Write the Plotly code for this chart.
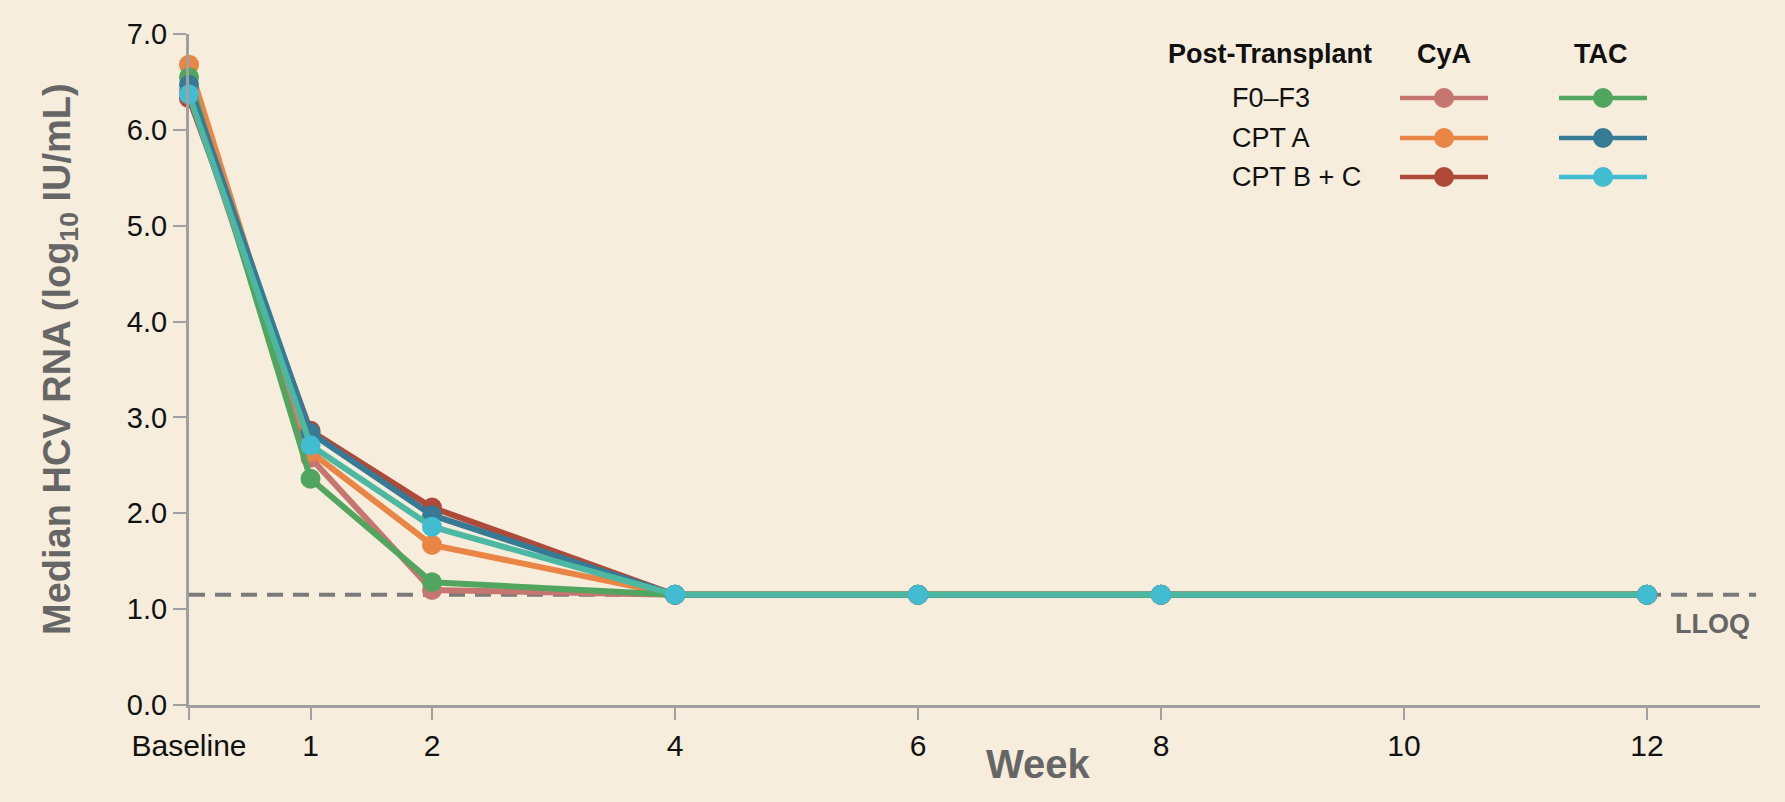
import plotly.graph_objects as go

# ---- data ----
weeks = [0, 1, 2, 4, 6, 8, 12]
tick_vals = [0, 1, 2, 4, 6, 8, 10, 12]
tick_text = ["Baseline", "1", "2", "4", "6", "8", "10", "12"]
y_ticks = [0, 1, 2, 3, 4, 5, 6, 7]

cya_f0f3 = [6.40, 2.58, 1.20, 1.15, 1.15, 1.15, 1.15]
cya_cpta = [6.68, 2.64, 1.67, 1.15, 1.15, 1.15, 1.15]
cya_cptbc = [6.33, 2.86, 2.06, 1.15, 1.15, 1.15, 1.15]
tac_f0f3 = [6.55, 2.36, 1.28, 1.15, 1.15, 1.15, 1.15]
tac_cpta = [6.47, 2.84, 1.98, 1.15, 1.15, 1.15, 1.15]
tac_cptbc = [6.37, 2.71, 1.86, 1.15, 1.15, 1.15, 1.15]
lloq = 1.15

row_labels = ["F0–F3", "CPT A", "CPT B + C"]

series = [
    ("CyA F0–F3", cya_f0f3, "#c67670", "#c67670"),
    ("CyA CPT A", cya_cpta, "#e98545", "#e98545"),
    ("CyA CPT B + C", cya_cptbc, "#b04a38", "#b04a38"),
    ("TAC F0–F3", tac_f0f3, "#52a55e", "#52a55e"),
    ("TAC CPT A", tac_cpta, "#367a96", "#367a96"),
    ("TAC CPT B + C", tac_cptbc, "#4db8a2", "#41bcd1"),
]

FONT = "Liberation Sans, Arial, Helvetica, sans-serif"
BG = "#f6eddc"

W, H = 1785, 802
L, R, T, B = 189, 25, 34, 97
pw = W - L - R
ph = H - T - B


def px(x):
    return (x - L) / pw


def py(y):
    return (H - B - y) / ph


fig = go.Figure()

for name, ys, lc, mc in series:
    fig.add_trace(go.Scatter(
        x=weeks, y=ys, mode="lines+markers", name=name,
        line=dict(color=lc, width=6),
        marker=dict(color=mc, size=20, line=dict(width=0)),
        cliponaxis=False, showlegend=False,
    ))

shapes = []
# LLOQ dashed line
shapes.append(dict(type="line", xref="paper", yref="y", x0=0, x1=0.9975,
                   y0=lloq, y1=lloq, line=dict(color="#7a7a7a", width=4, dash="16px,10px"),
                   layer="below"))

annotations = []
# LLOQ label
annotations.append(dict(text="<b>LLOQ</b>", xref="paper", yref="paper",
                        x=px(1752), y=py(624), xanchor="right", yanchor="middle",
                        showarrow=False, font=dict(family=FONT, size=27, color="#666666")))

# Axis titles
annotations.append(dict(text="<b>Week</b>", xref="paper", yref="paper",
                        x=px(1038), y=py(764), xanchor="center", yanchor="middle",
                        showarrow=False, font=dict(family=FONT, size=40, color="#666666")))
annotations.append(dict(text="<b>Median HCV RNA (log<sub>10</sub> IU/mL)</b>", xref="paper", yref="paper",
                        x=px(60), y=py(359), xanchor="center", yanchor="middle", textangle=-90,
                        showarrow=False, font=dict(family=FONT, size=38, color="#666666")))

# Custom legend
hdr_y = 54
annotations.append(dict(text="<b>Post-Transplant</b>", xref="paper", yref="paper",
                        x=px(1270), y=py(hdr_y), xanchor="center", yanchor="middle",
                        showarrow=False, font=dict(family=FONT, size=27, color="#111111")))
annotations.append(dict(text="<b>CyA</b>", xref="paper", yref="paper",
                        x=px(1444), y=py(hdr_y), xanchor="center", yanchor="middle",
                        showarrow=False, font=dict(family=FONT, size=27, color="#111111")))
annotations.append(dict(text="<b>TAC</b>", xref="paper", yref="paper",
                        x=px(1601), y=py(hdr_y), xanchor="center", yanchor="middle",
                        showarrow=False, font=dict(family=FONT, size=27, color="#111111")))

row_y = [98, 138, 177]
col_x = [1444, 1603]
for i, lab in enumerate(row_labels):
    annotations.append(dict(text=lab, xref="paper", yref="paper",
                            x=px(1230), y=py(row_y[i]), xanchor="left", yanchor="middle",
                            showarrow=False, font=dict(family=FONT, size=27, color="#111111")))
    for j in range(2):
        _, _, lc, mc = series[j * 3 + i]
        cx = col_x[j]
        shapes.append(dict(type="line", xref="paper", yref="paper",
                           x0=px(cx - 44), x1=px(cx + 44), y0=py(row_y[i]), y1=py(row_y[i]),
                           line=dict(color=mc, width=4.5)))
        shapes.append(dict(type="circle", xref="paper", yref="paper",
                           xsizemode="pixel", ysizemode="pixel",
                           xanchor=px(cx), yanchor=py(row_y[i]),
                           x0=-10, x1=10, y0=-10, y1=10,
                           fillcolor=mc, line=dict(width=0)))

fig.update_layout(
    width=W, height=H,
    margin=dict(l=L, r=R, t=T, b=B, pad=0),
    paper_bgcolor=BG, plot_bgcolor=BG,
    shapes=shapes, annotations=annotations,
    showlegend=False,
    font=dict(family=FONT, color="#111111"),
)

fig.update_xaxes(
    range=[0, 12.93], tickmode="array", tickvals=tick_vals, ticktext=tick_text,
    showgrid=False, zeroline=False, showline=True, linecolor="#a0a0a0", linewidth=3,
    ticks="outside", ticklen=12, tickwidth=2, tickcolor="#a0a0a0",
    tickfont=dict(family=FONT, size=30, color="#111111"),
)
fig.update_yaxes(
    range=[0, 7], tickmode="array", tickvals=y_ticks, ticktext=[f"{v:.1f}" for v in y_ticks],
    showgrid=False, zeroline=False, showline=True, linecolor="#a0a0a0", linewidth=3,
    ticks="outside", ticklen=13, tickwidth=2, tickcolor="#a0a0a0",
    tickfont=dict(family=FONT, size=29, color="#111111"),
)

fig.write_html("out.html",
               config={"displayModeBar": False},
               post_script="document.body.style.margin='0';document.body.style.background='#f6eddc';")
